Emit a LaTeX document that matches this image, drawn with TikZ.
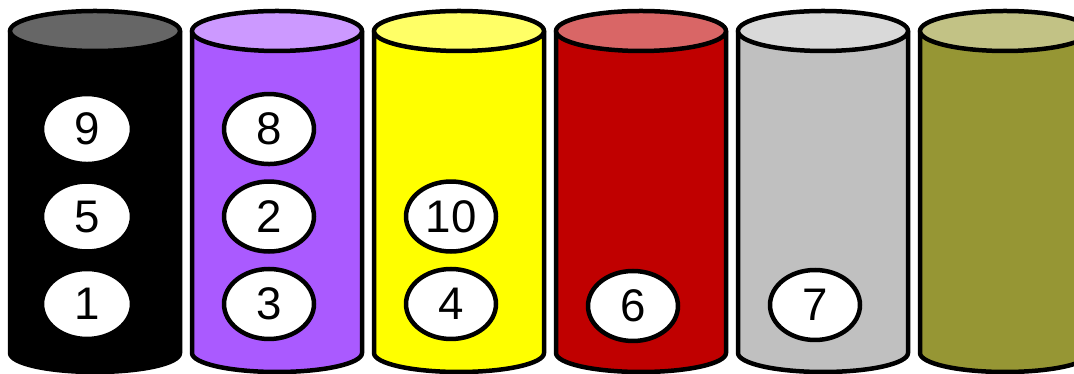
\documentclass[tikz,border=0pt]{standalone}
\usepackage{fontspec}
\setmainfont{Liberation Sans}
\usetikzlibrary{positioning, shapes.geometric}
\definecolor{lidBlack}{RGB}{102,102,102}
\definecolor{bodyPurple}{RGB}{170,90,255}
\definecolor{lidPurple}{RGB}{204,153,255}
\definecolor{bodyYellow}{RGB}{255,255,0}
\definecolor{lidYellow}{RGB}{255,255,102}
\definecolor{bodyRed}{RGB}{192,0,0}
\definecolor{lidRed}{RGB}{217,102,102}
\definecolor{bodyGray}{RGB}{192,192,192}
\definecolor{lidGray}{RGB}{217,217,217}
\definecolor{bodyOlive}{RGB}{150,150,52}
\definecolor{lidOlive}{RGB}{194,194,133}
\tikzset{
  can/.style={
    draw,
    line width=0.09cm,
    line join=round
  },
  ball/.style={
    ellipse,
    draw,
    fill=white,
    line width=0.09cm,
    minimum width=1.8cm,
    minimum height=1.4cm,
    inner sep=0pt,
    font=\fontsize{26}{30}\selectfont
  }
}

\begin{document}
\begin{tikzpicture}[x=0.02cm, y=0.02cm, node distance=0.26cm]
  \useasboundingbox (0,0) rectangle (1074,374);
  \clip (0,0) rectangle (1074,374);

  % cans
  \foreach \i/\body/\lid in {0/black/lidBlack, 1/bodyPurple/lidPurple,
      2/bodyYellow/lidYellow, 3/bodyRed/lidRed, 4/bodyGray/lidGray,
      5/bodyOlive/lidOlive} {
    \pgfmathsetmacro\cx{95+182*\i}
    \filldraw[can, fill=\body] (\cx-85,343) -- (\cx-85,21)
      arc[start angle=180, end angle=360, x radius=85, y radius=19]
      -- (\cx+85,343) -- cycle;
    \filldraw[can, fill=\lid] (\cx,343) ellipse[x radius=85, y radius=20];
  }

  % balls
  \node[ball] (b1) at (87,70) {1};
  \node[ball, above=of b1] (b5) {5};
  \node[ball, above=of b5] (b9) {9};

  \node[ball] (b3) at (269,70) {3};
  \node[ball, above=of b3] (b2) {2};
  \node[ball, above=of b2] (b8) {8};

  \node[ball] (b4) at (451,70) {4};
  \node[ball, above=of b4] (b10) {10};

  \node[ball] (b6) at (633,68) {6};

  \node[ball] (b7) at (815,69) {7};
\end{tikzpicture}
\end{document}
